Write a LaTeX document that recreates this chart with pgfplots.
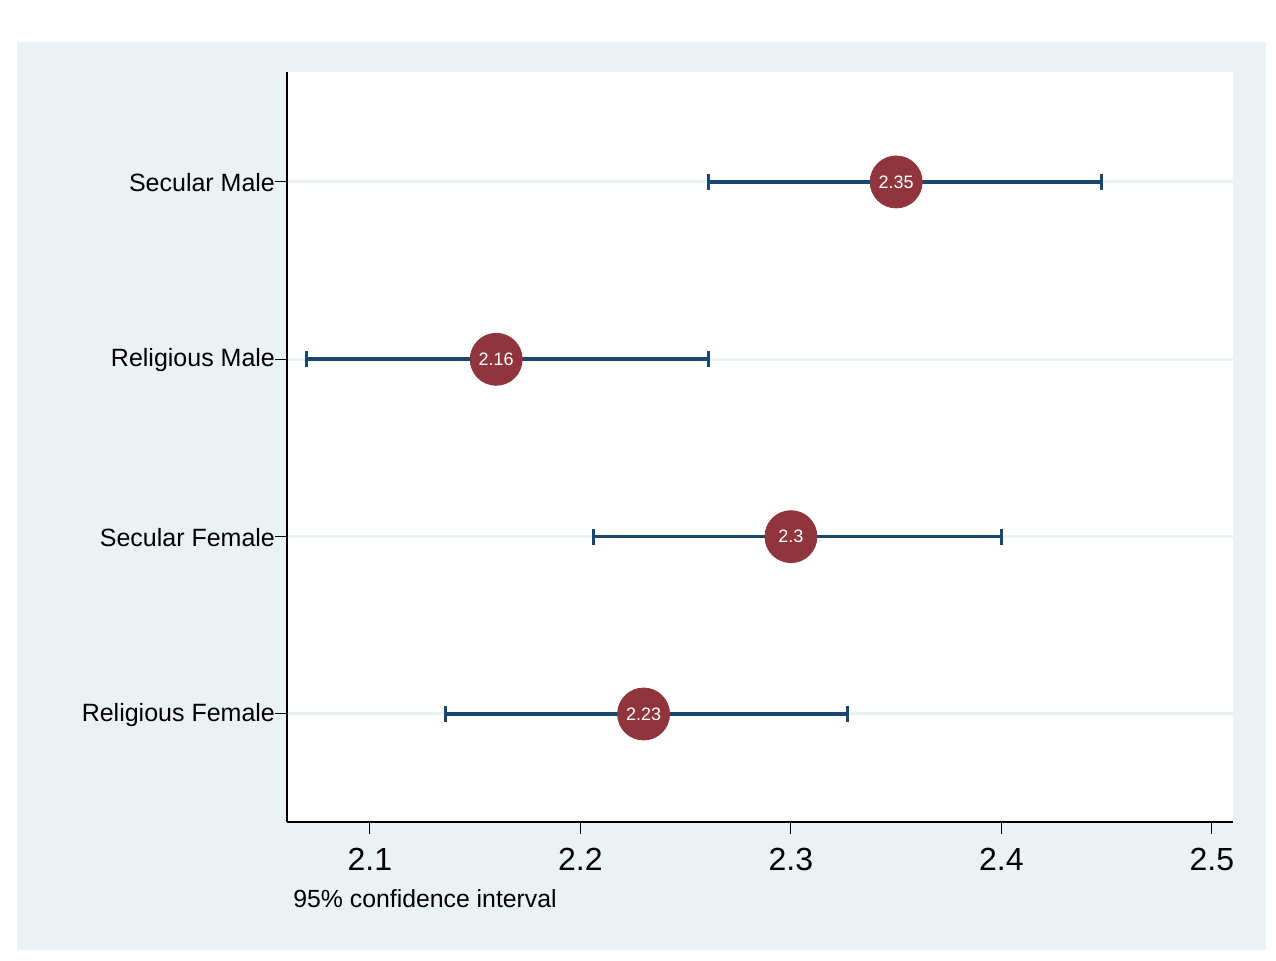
\documentclass[border=0pt]{standalone}
\usepackage{pgfplots}
\pgfplotsset{compat=1.18}
\usepackage{fontspec}
\setmainfont{Liberation Sans}
\definecolor{panel}{HTML}{EAF2F3}
\definecolor{ciblue}{HTML}{1A476F}
\definecolor{dotred}{HTML}{90353B}
\begin{document}
\begin{tikzpicture}[x=1pt,y=1pt]
\useasboundingbox (0,0) rectangle (638,480);
\fill[panel] (8.5,5) rectangle (633,459);
\begin{axis}[
  at={(143.5pt,69pt)}, anchor=origin,
  scale only axis, width=473pt, height=375pt,
  xmin=2.0606, xmax=2.51, ymin=0.391, ymax=4.62,
  axis x line*=bottom, axis y line*=left,
  axis line style={black, line width=0.6pt},
  axis background/.style={fill=white},
  tick align=outside,
  xtick={2.1,2.2,2.3,2.4,2.5},
  ytick={1,2,3,4},
  yticklabels={Religious Female,Secular Female,Religious Male,Secular Male},
  major tick length=6pt,
  tick style={black, line width=0.5pt},
  xticklabel style={font=\fontsize{16}{16}\selectfont, /pgf/number format/fixed, /pgf/number format/precision=1, /pgf/number format/assume math mode=true, yshift=-3.5pt},
  yticklabel style={font=\fontsize{12.5}{12.5}\selectfont, xshift=3.5pt, yshift=-0.5pt},
  ymajorgrids, grid style={panel, line width=1.5pt},
  xlabel={95\% confidence interval},
  xlabel style={at={(axis description cs:0,0)}, anchor=base west, inner sep=0pt, xshift=3pt, yshift=-42.5pt, font=\fontsize{12.4}{12.4}\selectfont},
  clip=false,
]
% confidence intervals
\addplot[ciblue, line width=1.8pt, mark=|, mark options={line width=1.5pt, mark size=4pt, solid}] coordinates {(2.2606,4) (2.4477,4)};
\addplot[ciblue, line width=1.8pt, mark=|, mark options={line width=1.5pt, mark size=4pt, solid}] coordinates {(2.0700,3) (2.2606,3)};
\addplot[ciblue, line width=1.8pt, mark=|, mark options={line width=1.5pt, mark size=4pt, solid}] coordinates {(2.2064,2) (2.3998,2)};
\addplot[ciblue, line width=1.8pt, mark=|, mark options={line width=1.5pt, mark size=4pt, solid}] coordinates {(2.1361,1) (2.3271,1)};
% point estimates
\addplot[only marks, mark=*, mark size=13pt, mark options={fill=dotred, draw=dotred},
  point meta=explicit symbolic,
  nodes near coords, nodes near coords align={center},
  every node near coord/.append style={anchor=center, text=white, font=\fontsize{9}{9}\selectfont}]
  coordinates {(2.35,4)[2.35] (2.16,3)[2.16] (2.30,2)[2.3] (2.23,1)[2.23]};
\end{axis}
\end{tikzpicture}
\end{document}
